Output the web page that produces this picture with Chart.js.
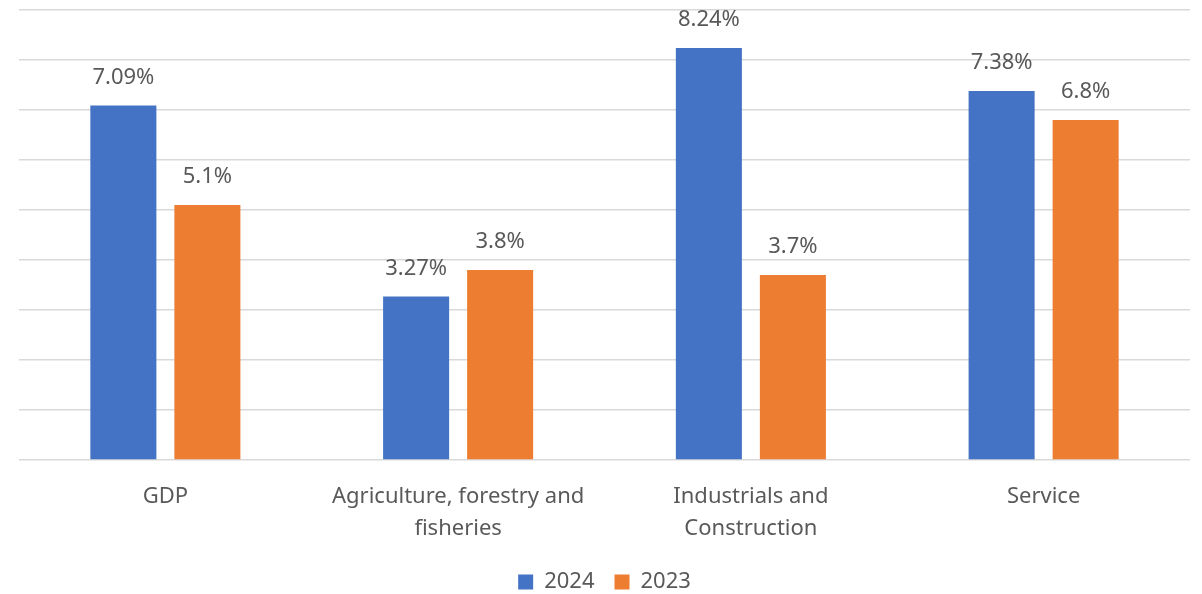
<!DOCTYPE html>
<html>
<head>
<meta charset="utf-8">
<script src="https://cdn.jsdelivr.net/npm/chart.js@4"></script>
<style>
  html, body { margin: 0; padding: 0; background: #fff; }
  #wrap { width: 1202px; height: 594px; }
</style>
</head>
<body>
<div id="wrap"><canvas id="growth-chart"></canvas></div>
<script>
const categories = ['GDP', ['Agriculture, forestry and', 'fisheries'], ['Industrials and', 'Construction'], 'Service'];
const values2024 = [7.09, 3.27, 8.24, 7.38];
const values2023 = [5.1, 3.8, 3.7, 6.8];
const seriesNames = ['2024', '2023'];

const FONT = '"Noto Sans", "Open Sans", sans-serif';
const TEXT = '#595959';

// labels above each bar, like the excel data labels
const barLabels = {
  id: 'barLabels',
  afterDatasetsDraw(chart) {
    const c = chart.ctx;
    c.save();
    c.font = '22px ' + FONT;
    c.fillStyle = TEXT;
    c.textAlign = 'center';
    c.textBaseline = 'alphabetic';
    chart.data.datasets.forEach((ds, i) => {
      chart.getDatasetMeta(i).data.forEach((bar, j) => {
        c.fillText(ds.data[j] + '%', bar.x, bar.y - 22);
      });
    });
    c.restore();
  }
};

// keep the legend short so the plot can reach down like the original
const legendHeight = {
  id: 'legendHeight',
  beforeInit(chart) {
    const lg = chart.legend;
    if (!lg) return;
    const fit = lg.fit;
    lg.fit = function () {
      fit.call(this);
      this.height = 43;
    };
  }
};

const ctx = document.getElementById('growth-chart').getContext('2d');
new Chart(ctx, {
  type: 'bar',
  data: {
    labels: categories,
    datasets: [
      { label: seriesNames[0], data: values2024, backgroundColor: '#4472c4' },
      { label: seriesNames[1], data: values2023, backgroundColor: '#ed7d31' }
    ]
  },
  options: {
    responsive: true,
    maintainAspectRatio: false,
    animation: false,
    categoryPercentage: 0.574,
    barPercentage: 0.786,
    layout: { padding: { left: 19, right: 12, top: 10, bottom: 0 } },
    plugins: {
      tooltip: { enabled: false },
      legend: {
        position: 'bottom',
        labels: {
          color: TEXT,
          font: { family: FONT, size: 22 },
          boxWidth: 15,
          boxHeight: 15,
          padding: 20
        }
      }
    },
    scales: {
      x: {
        grid: { display: false, drawTicks: false },
        border: { display: false },
        ticks: {
          color: TEXT,
          font: { family: FONT, size: 22, lineHeight: 1.45 },
          maxRotation: 0,
          padding: 21
        },
        afterFit(scale) { scale.height = 91; }
      },
      y: {
        min: 0,
        max: 9,
        ticks: { stepSize: 1, display: false },
        grid: { color: '#d9d9d9', lineWidth: 1.5, drawTicks: false },
        border: { display: false }
      }
    }
  },
  plugins: [barLabels, legendHeight]
});
</script>
</body>
</html>
